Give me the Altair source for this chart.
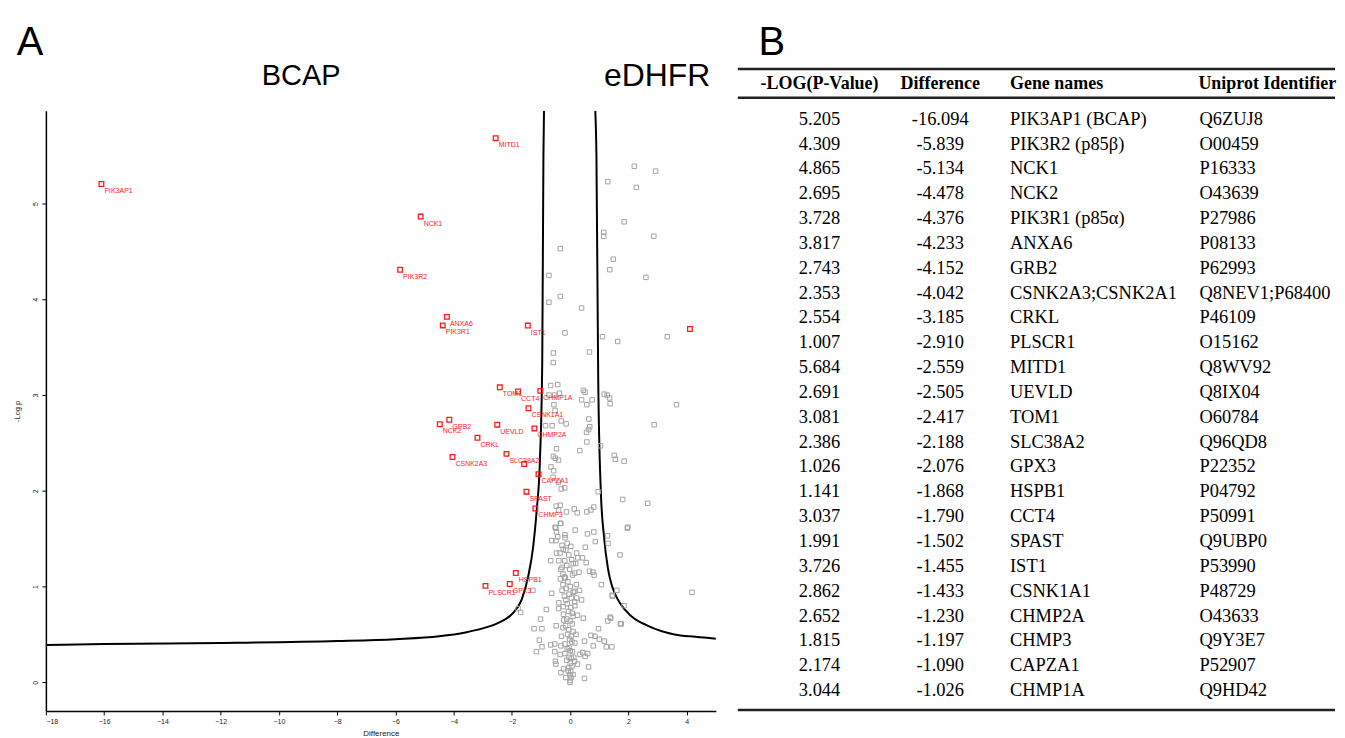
import altair as alt
import pandas as pd

# ---------------- Table data (panel B) ----------------
neglogp = [5.205, 4.309, 4.865, 2.695, 3.728, 3.817, 2.743, 2.353, 2.554, 1.007, 5.684, 2.691,
           3.081, 2.386, 1.026, 1.141, 3.037, 1.991, 3.726, 2.862, 2.652, 1.815, 2.174, 3.044]
difference = [-16.094, -5.839, -5.134, -4.478, -4.376, -4.233, -4.152, -4.042, -3.185, -2.910, -2.559, -2.505,
              -2.417, -2.188, -2.076, -1.868, -1.790, -1.502, -1.455, -1.433, -1.230, -1.197, -1.090, -1.026]
gene_names = ["PIK3AP1 (BCAP)", "PIK3R2 (p85β)", "NCK1", "NCK2", "PIK3R1 (p85α)", "ANXA6", "GRB2",
              "CSNK2A3;CSNK2A1", "CRKL", "PLSCR1", "MITD1", "UEVLD", "TOM1", "SLC38A2", "GPX3", "HSPB1",
              "CCT4", "SPAST", "IST1", "CSNK1A1", "CHMP2A", "CHMP3", "CAPZA1", "CHMP1A"]
uniprot = ["Q6ZUJ8", "O00459", "P16333", "O43639", "P27986", "P08133", "P62993", "Q8NEV1;P68400",
           "P46109", "O15162", "Q8WV92", "Q8IX04", "O60784", "Q96QD8", "P22352", "P04792", "P50991",
           "Q9UBP0", "P53990", "P48729", "O43633", "Q9Y3E7", "P52907", "Q9HD42"]
plot_labels = ["PIK3AP1", "PIK3R2", "NCK1", "NCK2", "PIK3R1", "ANXA6", "GRB2", "CSNK2A3", "CRKL",
               "PLSCR1", "MITD1", "UEVLD", "TOM1", "SLC38A2", "GPX3", "HSPB1", "CCT4", "SPAST", "IST1",
               "CSNK1A1", "CHMP2A", "CHMP3", "CAPZA1", "CHMP1A"]
headers = ["-LOG(P-Value)", "Difference", "Gene names", "Uniprot Identifier"]

# extra (unlabelled) red points
extra_red_x = [-1.58, 4.11]
extra_red_y = [2.28, 3.69]

# ---------------- Volcano threshold curves ----------------
curve_left_x = [-18.0, -16.0, -12.0, -8.0, -6.0, -4.5, -3.6, -3.04, -2.47, -2.01, -1.67, -1.44, -1.27,
                -1.15, -1.04, -0.96, -0.92, -0.90]
curve_left_y = [0.39, 0.40, 0.41, 0.43, 0.45, 0.48, 0.52, 0.56, 0.62, 0.71, 0.86, 1.11, 1.42,
                1.80, 2.32, 3.36, 5.50, 5.97]
curve_right_x = [0.86, 0.90, 0.96, 1.05, 1.16, 1.30, 1.44, 1.70, 2.10, 2.67, 3.58, 4.3, 5.0]
curve_right_y = [5.97, 5.50, 3.20, 2.00, 1.52, 1.18, 1.00, 0.83, 0.69, 0.59, 0.50, 0.475, 0.455]

# ---------------- Background (grey) proteins ----------------
gray_points = [
    (2.20, 5.39), (2.93, 5.34), (1.29, 5.23), (2.27, 5.17), (1.85, 4.81), (1.15, 4.70), (1.15, 4.66),
    (2.87, 4.66), (-0.34, 4.53), (1.48, 4.42), (1.36, 4.31), (2.60, 4.23), (-0.73, 4.25), (-0.34, 4.03),
    (-0.73, 3.97), (0.39, 3.91), (-0.18, 3.65), (1.11, 3.61), (1.63, 3.56), (3.33, 3.61), (-0.58, 3.44),
    (0.66, 3.45), (-0.58, 3.34),
    (-0.67, 3.10), (-0.43, 3.11), (-0.73, 3.00), (-0.54, 3.00), (-0.37, 3.02), (-0.56, 2.90), (-0.52, 2.84),
    (0.45, 3.05), (0.51, 3.03), (0.39, 2.95), (0.75, 2.95), (0.57, 2.90), (1.17, 3.01), (1.27, 3.00),
    (1.35, 2.97), (1.37, 2.91), (-0.31, 2.73), (-0.14, 2.70), (-0.85, 2.68), (-0.62, 2.68), (0.64, 2.75),
    (0.67, 2.67), (0.63, 2.64), (0.56, 2.61), (0.57, 2.51), (0.33, 2.42), (-0.47, 2.44), (-0.58, 2.36),
    (-0.51, 2.34), (-0.40, 2.32), (-0.66, 2.25), (-0.57, 2.21), (-0.59, 2.14), (-0.41, 2.09), (-0.31, 2.02),
    (-0.19, 2.03), (1.04, 2.47), (1.51, 2.37), (1.55, 2.33), (1.85, 2.31), (0.96, 1.99), (1.80, 1.91),
    (-0.48, 1.84), (-0.34, 1.85), (-0.40, 1.80), (-0.13, 1.78), (0.14, 1.81), (0.24, 1.77), (0.57, 1.78),
    (0.71, 1.80), (0.81, 1.83), (-0.32, 1.66), (-0.52, 1.62), (1.98, 1.62),
    (3.65, 2.90), (2.88, 2.69), (2.66, 1.87), (4.18, 0.94),
    (-0.49, 1.61), (-0.34, 1.66), (-0.47, 1.57), (-0.18, 1.54), (-0.18, 1.51), (-0.43, 1.52), (-0.63, 1.48),
    (-0.49, 1.48), (0.17, 1.59), (0.59, 1.55), (0.81, 1.57), (1.28, 1.53), (1.30, 1.45), (0.86, 1.47),
    (1.96, 1.61), (-0.28, 1.43), (-0.24, 1.39), (-0.35, 1.35), (-0.47, 1.35), (0.52, 1.41), (1.71, 1.33),
    (-0.67, 1.27), (-0.39, 1.27), (-0.19, 1.27), (0.10, 1.24), (0.26, 1.30), (0.42, 1.30), (0.55, 1.25),
    (0.19, 1.24), (-0.32, 1.18), (-0.25, 1.13), (-0.34, 1.08), (-0.17, 1.09), (0.15, 1.14), (0.30, 1.15),
    (0.66, 1.16), (0.78, 1.15), (0.82, 1.12), (1.07, 1.02), (0.21, 1.02), (0.32, 0.96), (0.39, 0.86),
    (0.22, 0.88), (0.15, 0.84), (0.16, 0.80), (-0.64, 0.93), (-0.28, 0.96), (-0.20, 0.90), (-0.15, 0.86),
    (-0.39, 0.83), (-0.24, 0.79), (-0.82, 0.76), (-0.40, 0.77), (-0.23, 0.71), (0.10, 0.69), (0.45, 0.67),
    (-1.02, 0.66), (-1.24, 0.56), (-0.97, 0.56), (-0.48, 0.59), (-0.25, 0.57), (-0.16, 0.59), (0.07, 0.61),
    (0.97, 0.56), (0.71, 0.49), (0.85, 0.48), (1.00, 0.45), (1.17, 0.43), (0.49, 0.43), (1.29, 0.64),
    (1.39, 0.67), (1.72, 0.61), (1.44, 0.91), (1.60, 0.96), (-1.06, 0.44), (-0.97, 0.37), (-1.16, 0.32),
    (-0.67, 0.39), (-0.53, 0.40), (-0.32, 0.38), (-0.18, 0.40), (-0.04, 0.36), (0.16, 0.41), (-0.53, 0.32),
    (-0.35, 0.29), (0.33, 0.29), (0.43, 0.31), (0.51, 0.27), (0.60, 0.30), (0.79, 0.38), (1.24, 0.37),
    (1.43, 0.37), (-0.51, 0.22), (-0.49, 0.19), (0.15, 0.22), (0.25, 0.19), (0.63, 0.16), (-0.07, 0.12),
    (-0.32, 0.10), (-0.23, 0.14), (0.49, 0.04), (-0.01, 0.00),
    (1.45, 0.90), (1.85, 0.80), (1.37, 0.68), (1.75, 0.61),
    (-1.28, 0.96), (-1.70, 0.73), (-1.79, 0.77),
    (-0.10, 1.45), (0.02, 1.42), (-0.15, 1.38), (-0.05, 1.33), (0.05, 1.28), (-0.12, 1.22), (-0.02, 1.18),
    (0.08, 1.12), (-0.08, 1.05), (0.00, 1.00), (-0.14, 0.98), (0.10, 0.94), (-0.04, 0.92), (0.04, 0.88),
    (-0.10, 0.82), (0.02, 0.78), (-0.06, 0.74), (0.07, 0.72), (-0.12, 0.66), (0.00, 0.64), (-0.05, 0.55),
    (0.10, 0.53), (-0.09, 0.50), (0.03, 0.48), (-0.02, 0.45), (0.06, 0.42), (-0.10, 0.35), (0.00, 0.33),
    (0.08, 0.32), (-0.04, 0.26), (0.04, 0.25), (-0.12, 0.23), (0.00, 0.20), (0.06, 0.17), (-0.05, 0.15),
    (0.02, 0.11), (-0.01, 0.08), (0.03, 0.05), (0.00, 0.02), (-0.20, 1.10), (-0.25, 1.02), (-0.22, 0.65),
    (-0.30, 0.48), (0.20, 0.50), (0.25, 0.70), (0.15, 0.95), (-0.18, 0.30), (0.12, 0.26), (-0.15, 0.05),
    (0.10, 0.08), (-0.28, 1.20), (0.22, 1.35),
]
gray_x = [p[0] for p in gray_points]
gray_y = [p[1] for p in gray_points]

x_ticks = [-18, -16, -14, -12, -10, -8, -6, -4, -2, 0, 2, 4]
y_ticks = [0, 1, 2, 3, 4, 5]

RED = "#ff1a1a"
GRAY = "#a4a4a4"
SANS = "Liberation Sans"
SERIF = "Liberation Serif"

# ---------------- Panel A: volcano plot ----------------
xscale = alt.Scale(domain=[-18, 5], nice=False, zero=False)
yscale = alt.Scale(domain=[-0.3, 5.97], nice=False, zero=False)
xaxis = alt.Axis(values=x_ticks, format="d", title="Difference", labelFontSize=7, titleFontSize=8,
                 titleFontWeight="normal", tickSize=4, labelPadding=3, titlePadding=5, grid=False,
                 domainColor="black", domainWidth=1.5, tickColor="black", labelColor="#222",
                 titleColor="#222", labelFont=SANS, titleFont=SANS)
yaxis = alt.Axis(values=y_ticks, format="d", title="-Log p", labelAngle=270, labelAlign="center",
                 labelBaseline="bottom", labelFontSize=7, titleFontSize=7.5, titleFontWeight="normal",
                 tickSize=4, labelPadding=3, titlePadding=10, grid=False, domainColor="black",
                 domainWidth=1.5, tickColor="black", labelColor="#222", titleColor="#222",
                 labelFont=SANS, titleFont=SANS)
X = alt.X("x:Q", scale=xscale, axis=xaxis)
Y = alt.Y("y:Q", scale=yscale, axis=yaxis)

curve_l = alt.Chart(pd.DataFrame({"x": curve_left_x, "y": curve_left_y})).mark_line(
    color="black", strokeWidth=2, clip=True, interpolate="monotone").encode(x=X, y=Y)
curve_r = alt.Chart(pd.DataFrame({"x": curve_right_x, "y": curve_right_y})).mark_line(
    color="black", strokeWidth=2, clip=True, interpolate="monotone").encode(x=X, y=Y)
gray = alt.Chart(pd.DataFrame({"x": gray_x, "y": gray_y})).mark_point(
    shape="square", filled=False, size=20, strokeWidth=1, color=GRAY, opacity=1).encode(x=X, y=Y)
red_df = pd.DataFrame({"x": difference, "y": neglogp, "label": plot_labels})
red = alt.Chart(red_df).mark_point(
    shape="square", filled=False, size=22, strokeWidth=1.3, color=RED, opacity=1).encode(x=X, y=Y)
red_extra = alt.Chart(pd.DataFrame({"x": extra_red_x, "y": extra_red_y})).mark_point(
    shape="square", filled=False, size=22, strokeWidth=1.3, color=RED, opacity=1).encode(x=X, y=Y)
labels = alt.Chart(red_df).mark_text(
    align="left", baseline="middle", dx=3, dy=7, fontSize=7, font=SANS, color=RED).encode(
    x=X, y=Y, text="label:N")

letter_a = alt.Chart(pd.DataFrame({"t": ["A"]})).mark_text(
    fontSize=40, font=SANS, color="black", align="center", baseline="middle").encode(
    x=alt.value(-16), y=alt.value(-68), text="t:N")
t_bcap = alt.Chart(pd.DataFrame({"t": ["BCAP"]})).mark_text(
    fontSize=29, font=SANS, color="black", align="center", baseline="middle").encode(
    x=alt.value(256), y=alt.value(-35), text="t:N")
t_edhfr = alt.Chart(pd.DataFrame({"t": ["eDHFR"]})).mark_text(
    fontSize=32, font=SANS, color="black", align="center", baseline="middle").encode(
    x=alt.value(613), y=alt.value(-35), text="t:N")

panel_a = alt.layer(curve_l, curve_r, gray, red, red_extra, labels, letter_a, t_bcap, t_edhfr).properties(
    width=672, height=602)

# ---------------- Panel B: table ----------------
TW = 599
FS = 18.5
rows = pd.DataFrame({
    "row": list(range(len(neglogp))),
    "lp": [f"{v:.3f}" for v in neglogp],
    "diff": [f"{v:.3f}" for v in difference],
    "gene": gene_names,
    "uni": uniprot,
})
row_scale = alt.Scale(domain=[-0.321, 23.843], reverse=True, nice=False, zero=False)
RY = alt.Y("row:Q", scale=row_scale, axis=None)
tb = alt.Chart(rows)
c1 = tb.mark_text(align="center", baseline="middle", font=SERIF, fontSize=FS, color="black").encode(
    x=alt.value(82), y=RY, text="lp:N")
c2 = tb.mark_text(align="center", baseline="middle", font=SERIF, fontSize=FS, color="black").encode(
    x=alt.value(203), y=RY, text="diff:N")
c3 = tb.mark_text(align="left", baseline="middle", font=SERIF, fontSize=FS, color="black").encode(
    x=alt.value(273), y=RY, text="gene:N")
c4 = tb.mark_text(align="left", baseline="middle", font=SERIF, fontSize=FS, color="black").encode(
    x=alt.value(463), y=RY, text="uni:N")

hdr_layers = []
for name, xpos, al in zip(headers, [82, 203, 273, 462], ["center", "center", "left", "left"]):
    hdr_layers.append(
        alt.Chart(pd.DataFrame({"t": [name]})).mark_text(
            align=al, baseline="middle", font=SERIF, fontSize=18, fontWeight="bold", color="black").encode(
            x=alt.value(xpos), y=alt.value(-27), text="t:N"))

rule_df = pd.DataFrame({"r": [0]})
rules = [
    alt.Chart(rule_df).mark_rule(color="#222", strokeWidth=2.5).encode(
        x=alt.value(0), x2=alt.value(TW), y=alt.value(yy))
    for yy in [-42, -13, 601]
]
letter_b = alt.Chart(pd.DataFrame({"t": ["B"]})).mark_text(
    fontSize=40, font=SANS, color="black", align="center", baseline="middle").encode(
    x=alt.value(34), y=alt.value(-68), text="t:N")

panel_b = alt.layer(*rules, *hdr_layers, c1, c2, c3, c4, letter_b).properties(width=TW, height=602)

chart = alt.hconcat(panel_a, panel_b, spacing=20).properties(
    padding={"left": 6, "top": 14, "right": 0, "bottom": 0}
).configure_view(stroke=None)

chart.save("out.html", embed_options={"renderer": "svg", "actions": False})
